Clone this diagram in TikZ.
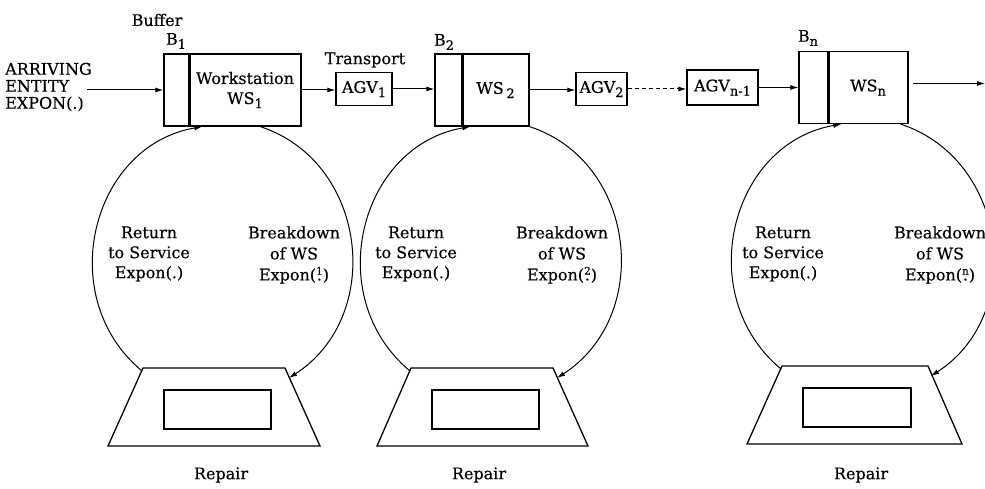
\documentclass[tikz,border=0pt]{standalone}
\usepackage{fontspec}
\setmainfont{DejaVu Serif}[FakeBold=0.35]
\usetikzlibrary{arrows.meta,calc}
\newcommand\sbs[1]{\raisebox{-0.5ex}{\fontsize{13}{13}\selectfont #1}}
\newcommand\frc[1]{\ooalign{\hfil\raisebox{0.7ex}{\fontsize{10.5}{10.5}\selectfont #1}\hfil\cr\hfil.\hfil\cr}}
\tikzset{
  every node/.style={font=\fontsize{16}{20}\selectfont},
  box/.style={draw, line width=1.3pt, inner sep=0pt, minimum height=72pt},
  agv/.style={draw, line width=1.3pt, inner sep=1pt, minimum height=33pt},
  arr/.style={-{Latex[length=8pt,width=5pt]}, line width=1pt},
  lbl/.style={align=center, inner sep=0pt},
  brk/.style={align=center, inner sep=0pt, font=\fontsize{16}{21}\selectfont},
  shp/.style={line width=1.3pt, line join=miter},
  inbox/.style={draw, line width=1.3pt, inner sep=0pt, minimum width=107pt, minimum height=39pt},
}
\begin{document}
\begin{tikzpicture}[x=1pt,y=1pt]
\useasboundingbox (0,0) rectangle (985,489);
\fill[white] (0,0) rectangle (985,489);
\clip (0,0) rectangle (985,489);

% ---------- top row ----------
\node[lbl, align=left, anchor=west, font=\fontsize{16}{17}\selectfont] (arrive) at (5,402) {ARRIVING\\ENTITY\\EXPON(.)};
\coordinate (arrst) at (87,399);

\node[box, minimum width=25pt] (B1) at (176.5,399) {};
\node[box, minimum width=112pt, lbl, draw] (WS1) at (245,399) {Workstation\\WS\sbs{1}};
\draw[line width=2.2pt] (B1.north east) -- (B1.south east);
\node[lbl] (buflbl) at (157,469) {Buffer};
\node[lbl] (b1lbl) at (176,448) {B\sbs{1}};

\node[lbl] (trlbl) at (365,429) {Transport};
\node[agv, minimum width=56pt] (AGV1) at (364,400) {AGV\sbs{1}};

\node[box, minimum width=27pt] (B2) at (448.5,399) {};
\node[box, minimum width=67pt] (WS2) at (495.5,399) {WS\,\sbs{2}};
\draw[line width=2.2pt] (B2.north east) -- (B2.south east);
\node[lbl] (b2lbl) at (444,447) {B\sbs{2}};

\node[agv, minimum width=51pt] (AGV2) at (601.5,400) {AGV\sbs{2}};
\node[agv, minimum width=71pt, minimum height=35pt] (AGVn1) at (722.5,401.5) {AGV\sbs{n-1}};

\node[box, minimum width=29pt] (Bn) at (813.5,401.5) {};
\node[box, minimum width=80pt] (WSn) at (868,401.5) {WS\sbs{n}};
\draw[line width=2.2pt] (Bn.north east) -- (Bn.south east);
\node[lbl] (bnlbl) at (808,451) {B\sbs{n}};
\coordinate (out) at (985,405.5);

\draw[arr] (arrst) -- (arrst -| B1.west);
\draw[arr] (WS1.east) -- (WS1.east -| AGV1.west);
\draw[arr] (AGV1.east) -- (AGV1.east -| B2.west);
\draw[arr] (WS2.east) -- (WS2.east -| AGV2.west);
\draw[arr, dash pattern=on 4pt off 3pt] (AGV2.east) -- (AGV2.east -| AGVn1.west);
\draw[arr] (AGVn1.east) -- (AGVn1.east -| Bn.west);
\draw[arr] ([xshift=4pt]WSn.east |- out) -- (out);

% ---------- group 1 ----------
\draw[shp] (108,43) -- (320,43) -- (285,121) -- (143,121) -- cycle;
\node[inbox] (R1) at (217.5,79.5) {};
\node[lbl] (rep1) at (221,14) {Repair};
\node[lbl] (ret1) at (149,235) {Return\\to Service\\Expon(.)};
\node[brk] (brk1) at (294,234) {Breakdown\\of WS\\Expon(\frc{1})};
\coordinate (S1) at (142,118);
\coordinate (E1) at ($(WS1.south west)+(14,0)$);
\coordinate (F1) at ($(WS1.south west)+(72,0)$);
\coordinate (G1) at (289,111);
\draw[arr] (S1) .. controls ($(S1)+(-89,74)$) and ($(E1)+(-111,-19)$) .. (E1);
\draw[arr] (F1) .. controls ($(F1)+(107,-35)$) and ($(G1)+(96,62)$) .. (G1);

% ---------- group 2 ----------
\draw[shp] (377,43) -- (588,43) -- (553,121) -- (411,121) -- cycle;
\node[inbox] (R2) at (485.5,79.5) {};
\node[lbl] (rep2) at (479,14) {Repair};
\node[lbl] (ret2) at (416,235) {Return\\to Service\\Expon(.)};
\node[brk] (brk2) at (562,234) {Breakdown\\of WS\\Expon(\frc{2})};
\coordinate (S2) at (410,118);
\coordinate (E2) at ($(WS2.south west)+(9,0)$);
\coordinate (F2) at (WS2.south east);
\coordinate (G2) at (557,111);
\draw[arr] (S2) .. controls ($(S2)+(-89,74)$) and ($(E2)+(-111,-19)$) .. (E2);
\draw[arr] (F2) .. controls ($(F2)+(107,-35)$) and ($(G2)+(96,62)$) .. (G2);

% ---------- group 3 ----------
\draw[shp] (747,45) -- (962,45) -- (928,123) -- (782,123) -- cycle;
\node[inbox, minimum width=108pt] (R3) at (857,81.5) {};
\node[lbl] (rep3) at (861,14) {Repair};
\node[lbl] (ret3) at (783,235) {Return\\to Service\\Expon(.)};
\node[brk] (brk3) at (940,234) {Breakdown\\of WS\\Expon(\frc{n})};
\coordinate (S3) at (781,120);
\coordinate (E3) at ($(WSn.south west)+(14,0)$);
\coordinate (F3) at ($(WSn.south east)+(-8,0)$);
\coordinate (G3) at (931,113);
\draw[arr] (S3) .. controls ($(S3)+(-89,74)$) and ($(E3)+(-111,-19)$) .. (E3);
\draw[arr] (F3) .. controls ($(F3)+(107,-35)$) and ($(G3)+(96,62)$) .. (G3);
\end{tikzpicture}
\end{document}
